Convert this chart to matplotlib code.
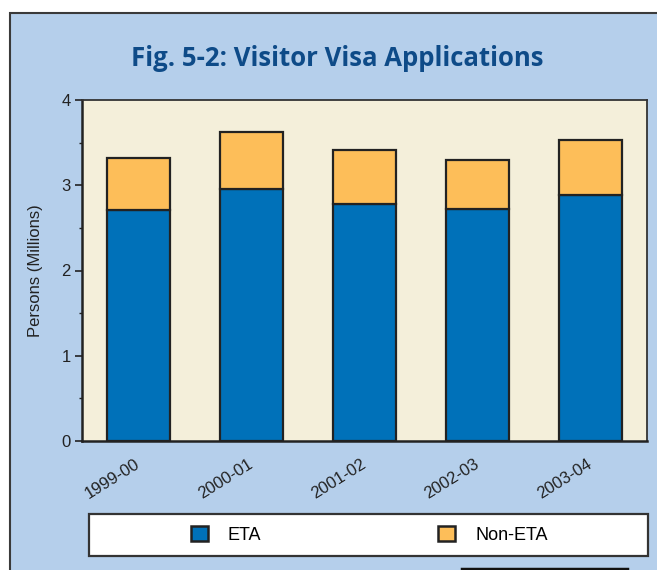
import matplotlib
matplotlib.use("Agg")
import matplotlib.pyplot as plt
from matplotlib.patches import Rectangle, Patch
from matplotlib.lines import Line2D
import matplotlib.transforms as mtransforms

plt.rcParams['font.family'] = ['Liberation Sans', 'DejaVu Sans']

years = ["1999-00", "2000-01", "2001-02", "2002-03", "2003-04"]
eta = [2.71, 2.96, 2.78, 2.72, 2.88]
non_eta = [0.61, 0.66, 0.63, 0.58, 0.65]

bg_blue = "#b5cfeb"
cream = "#f4efda"
eta_col = "#0071b9"
non_col = "#fdbe59"
edge = "#222222"

fig = plt.figure(figsize=(6.57, 5.70), dpi=100, facecolor="white")
W, H = 657.0, 570.0

# outer blue panel with frame (runs past right/bottom edge)
fig.patches.append(Rectangle((10 / W, -0.05), 1.1, (570 - 13) / H + 0.05,
                             transform=fig.transFigure, facecolor=bg_blue,
                             edgecolor="#3a3a3a", lw=1.5, zorder=-5))

fig.text(337 / W, 1 - 58 / H, "Fig. 5-2: Visitor Visa Applications",
         ha="center", va="center", fontsize=18.5, fontweight="bold",
         color="#0e4b88", family=["Open Sans", "DejaVu Sans"])

ax = fig.add_axes([82 / W, 1 - 441 / H, (647 - 82) / W, (441 - 100) / H])
ax.set_zorder(2)
ax.set_facecolor(cream)

x = range(len(years))
ax.bar(x, eta, width=0.56, color=eta_col, edgecolor=edge, linewidth=1.6, zorder=3)
ax.bar(x, non_eta, bottom=eta, width=0.56, color=non_col, edgecolor=edge,
       linewidth=1.6, zorder=3)

ax.set_xlim(-0.5, 4.5)
ax.set_ylim(0, 4)
ax.set_yticks([0, 1, 2, 3, 4])
ax.set_yticks([0.5, 1.5, 2.5, 3.5], minor=True)
ax.tick_params(axis="y", which="major", length=5, width=1.2, color=edge,
               labelsize=12, labelcolor="#222222", pad=3)
ax.tick_params(axis="y", which="minor", length=2.5, width=1, color=edge)
ax.set_xticks(list(x))
ax.set_xticklabels(years, rotation=32, ha="right", rotation_mode="anchor")
ax.tick_params(axis="x", length=0, labelsize=12, labelcolor="#222222", pad=11)
offset = mtransforms.ScaledTranslation(-0.04, 0, fig.dpi_scale_trans)
for lbl in ax.get_xticklabels():
    lbl.set_transform(lbl.get_transform() + offset)

ax.set_ylabel("Persons (Millions)", fontsize=12, color="#222222", labelpad=13)

for side in ["left", "bottom"]:
    ax.spines[side].set_linewidth(1.8)
    ax.spines[side].set_color(edge)
for side in ["top", "right"]:
    ax.spines[side].set_linewidth(1.3)
    ax.spines[side].set_color("#333333")

# legend box
fig.patches.append(Rectangle((89 / W, 1 - 556 / H), (648 - 89) / W, (556 - 514) / H,
                             transform=fig.transFigure, facecolor="white",
                             edgecolor="#333333", lw=1.6, zorder=1))
handles = [Patch(facecolor=eta_col, edgecolor=edge, lw=1.8, label="ETA"),
           Patch(facecolor=non_col, edgecolor=edge, lw=1.8, label="Non-ETA")]
fig.legend(handles=handles, loc="center left", bbox_to_anchor=(191 / W, 1 - 535 / H),
           ncol=2, frameon=False, fontsize=13, handlelength=0.94, handleheight=0.94,
           handletextpad=1.1, columnspacing=9.8, borderpad=0, borderaxespad=0)

# piece of the next box at the bottom edge
fig.add_artist(Line2D([462 / W, 627 / W], [1.5 / H, 1.5 / H], transform=fig.transFigure,
                      color="#111111", lw=2.5))

fig.savefig("out.png", dpi=100, facecolor=fig.get_facecolor())
